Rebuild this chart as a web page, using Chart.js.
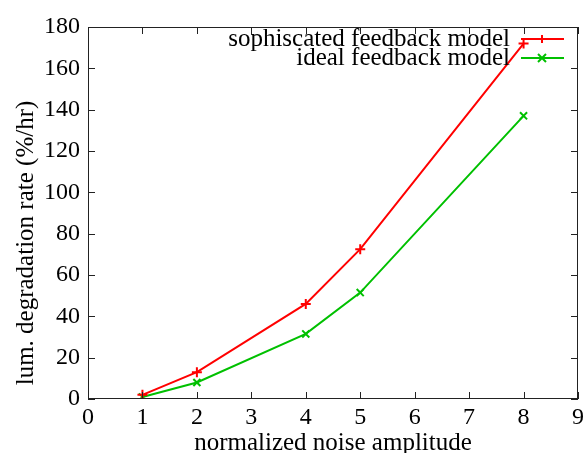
<!DOCTYPE html>
<html>
<head>
<meta charset="utf-8">
<script src="https://cdn.jsdelivr.net/npm/chart.js@4"></script>
<style>
  html, body { margin: 0; padding: 0; background: #fff; }
  #wrap { width: 588px; height: 453px; }
</style>
</head>
<body>
<div id="wrap"><canvas id="degradation_chart" width="588" height="453"></canvas></div>
<script>
const noise_amplitude = [1, 2, 4, 5, 8];
const sophisticated_rate = [2, 13, 46, 72.5, 172];
const ideal_rate = [1, 8, 31.5, 51.5, 137];
const series_labels = ['sophiscated feedback model', 'ideal feedback model'];
const x_ticks = [0, 1, 2, 3, 4, 5, 6, 7, 8, 9];
const y_ticks = [0, 20, 40, 60, 80, 100, 120, 140, 160, 180];
const x_title = 'normalized noise amplitude';
const y_title = 'lum. degradation rate (%/hr)';

const serif = "'Liberation Serif', 'DejaVu Serif', serif";

// gnuplot style: ticks drawn inward, mirrored on the opposite side
const inwardTicks = {
    id: 'inwardTicks',
    afterDatasetsDraw(chart) {
        const ctx = chart.ctx;
        const area = chart.chartArea;
        const xs = chart.scales.x;
        const ys = chart.scales.y;
        ctx.save();
        ctx.strokeStyle = '#222';
        ctx.lineWidth = 1;
        ctx.beginPath();
        x_ticks.forEach(v => {
            const px = Math.round(xs.getPixelForValue(v)) + 0.5;
            ctx.moveTo(px, area.bottom); ctx.lineTo(px, area.bottom - 7);
            ctx.moveTo(px, area.top); ctx.lineTo(px, area.top + 7);
        });
        y_ticks.forEach(v => {
            const py = Math.round(ys.getPixelForValue(v)) + 0.5;
            ctx.moveTo(area.left, py); ctx.lineTo(area.left + 7, py);
            ctx.moveTo(area.right, py); ctx.lineTo(area.right - 7, py);
        });
        ctx.stroke();
        ctx.strokeRect(area.left + 0.5, area.top + 0.5, area.right - area.left - 1, area.bottom - area.top - 1);

        // y title sits a bit below the plot centre in the original
        ctx.translate(26, 243);
        ctx.rotate(-Math.PI / 2);
        ctx.font = '25px ' + serif;
        ctx.fillStyle = '#000';
        ctx.textAlign = 'center';
        ctx.textBaseline = 'middle';
        ctx.fillText(y_title, 0, 0);
        ctx.restore();
    }
};

// key drawn inside the plot, top right, text right-aligned left of the sample line
const insideKey = {
    id: 'insideKey',
    afterDatasetsDraw(chart) {
        const ctx = chart.ctx;
        ctx.save();
        ctx.font = '25px ' + serif;
        ctx.textAlign = 'right';
        ctx.textBaseline = 'middle';
        chart.data.datasets.forEach((ds, i) => {
            const y = 39 + i * 19;
            ctx.fillStyle = '#000';
            ctx.fillText(ds.label, 510, y);
            ctx.strokeStyle = ds.borderColor;
            ctx.lineWidth = 2;
            ctx.beginPath();
            ctx.moveTo(521, y); ctx.lineTo(564, y);
            ctx.stroke();
            ctx.beginPath();
            const mx = 542, r = 4;
            if (ds.pointStyle === 'cross') {
                ctx.moveTo(mx - r, y); ctx.lineTo(mx + r, y);
                ctx.moveTo(mx, y - r); ctx.lineTo(mx, y + r);
            } else {
                ctx.moveTo(mx - r, y - r); ctx.lineTo(mx + r, y + r);
                ctx.moveTo(mx - r, y + r); ctx.lineTo(mx + r, y - r);
            }
            ctx.stroke();
        });
        ctx.restore();
    }
};

new Chart(document.getElementById('degradation_chart'), {
    type: 'line',
    data: {
        datasets: [
            {
                label: series_labels[0],
                data: noise_amplitude.map((x, i) => ({ x: x, y: sophisticated_rate[i] })),
                borderColor: '#ff0000',
                backgroundColor: '#ff0000',
                borderWidth: 2,
                pointStyle: 'cross',
                pointRadius: 5,
                pointBorderWidth: 2,
                tension: 0
            },
            {
                label: series_labels[1],
                data: noise_amplitude.map((x, i) => ({ x: x, y: ideal_rate[i] })),
                borderColor: '#00c000',
                backgroundColor: '#00c000',
                borderWidth: 2,
                pointStyle: 'crossRot',
                pointRadius: 5,
                pointBorderWidth: 2,
                tension: 0
            }
        ]
    },
    options: {
        responsive: false,
        animation: false,
        layout: { padding: { top: 27, right: 7, left: 0, bottom: 0 } },
        plugins: {
            legend: { display: false },
            tooltip: { enabled: false }
        },
        scales: {
            x: {
                type: 'linear',
                min: 0,
                max: 9,
                afterBuildTicks: scale => { scale.ticks = x_ticks.map(v => ({ value: v })); },
                grid: { display: false, drawTicks: false },
                border: { display: false },
                ticks: { color: '#000', font: { family: serif, size: 24 }, padding: 4, maxRotation: 0 },
                title: { display: true, text: x_title, color: '#000', font: { family: serif, size: 25 }, padding: { top: 0, bottom: -5 } },
                afterFit: scale => { scale.height = 54; }
            },
            y: {
                min: 0,
                max: 180,
                afterBuildTicks: scale => { scale.ticks = y_ticks.map(v => ({ value: v })); },
                grid: { display: false, drawTicks: false },
                border: { display: false },
                ticks: { color: '#000', font: { family: serif, size: 24 }, padding: 8 },
                afterFit: scale => { scale.width = 88; }
            }
        }
    },
    plugins: [inwardTicks, insideKey]
});
</script>
</body>
</html>
